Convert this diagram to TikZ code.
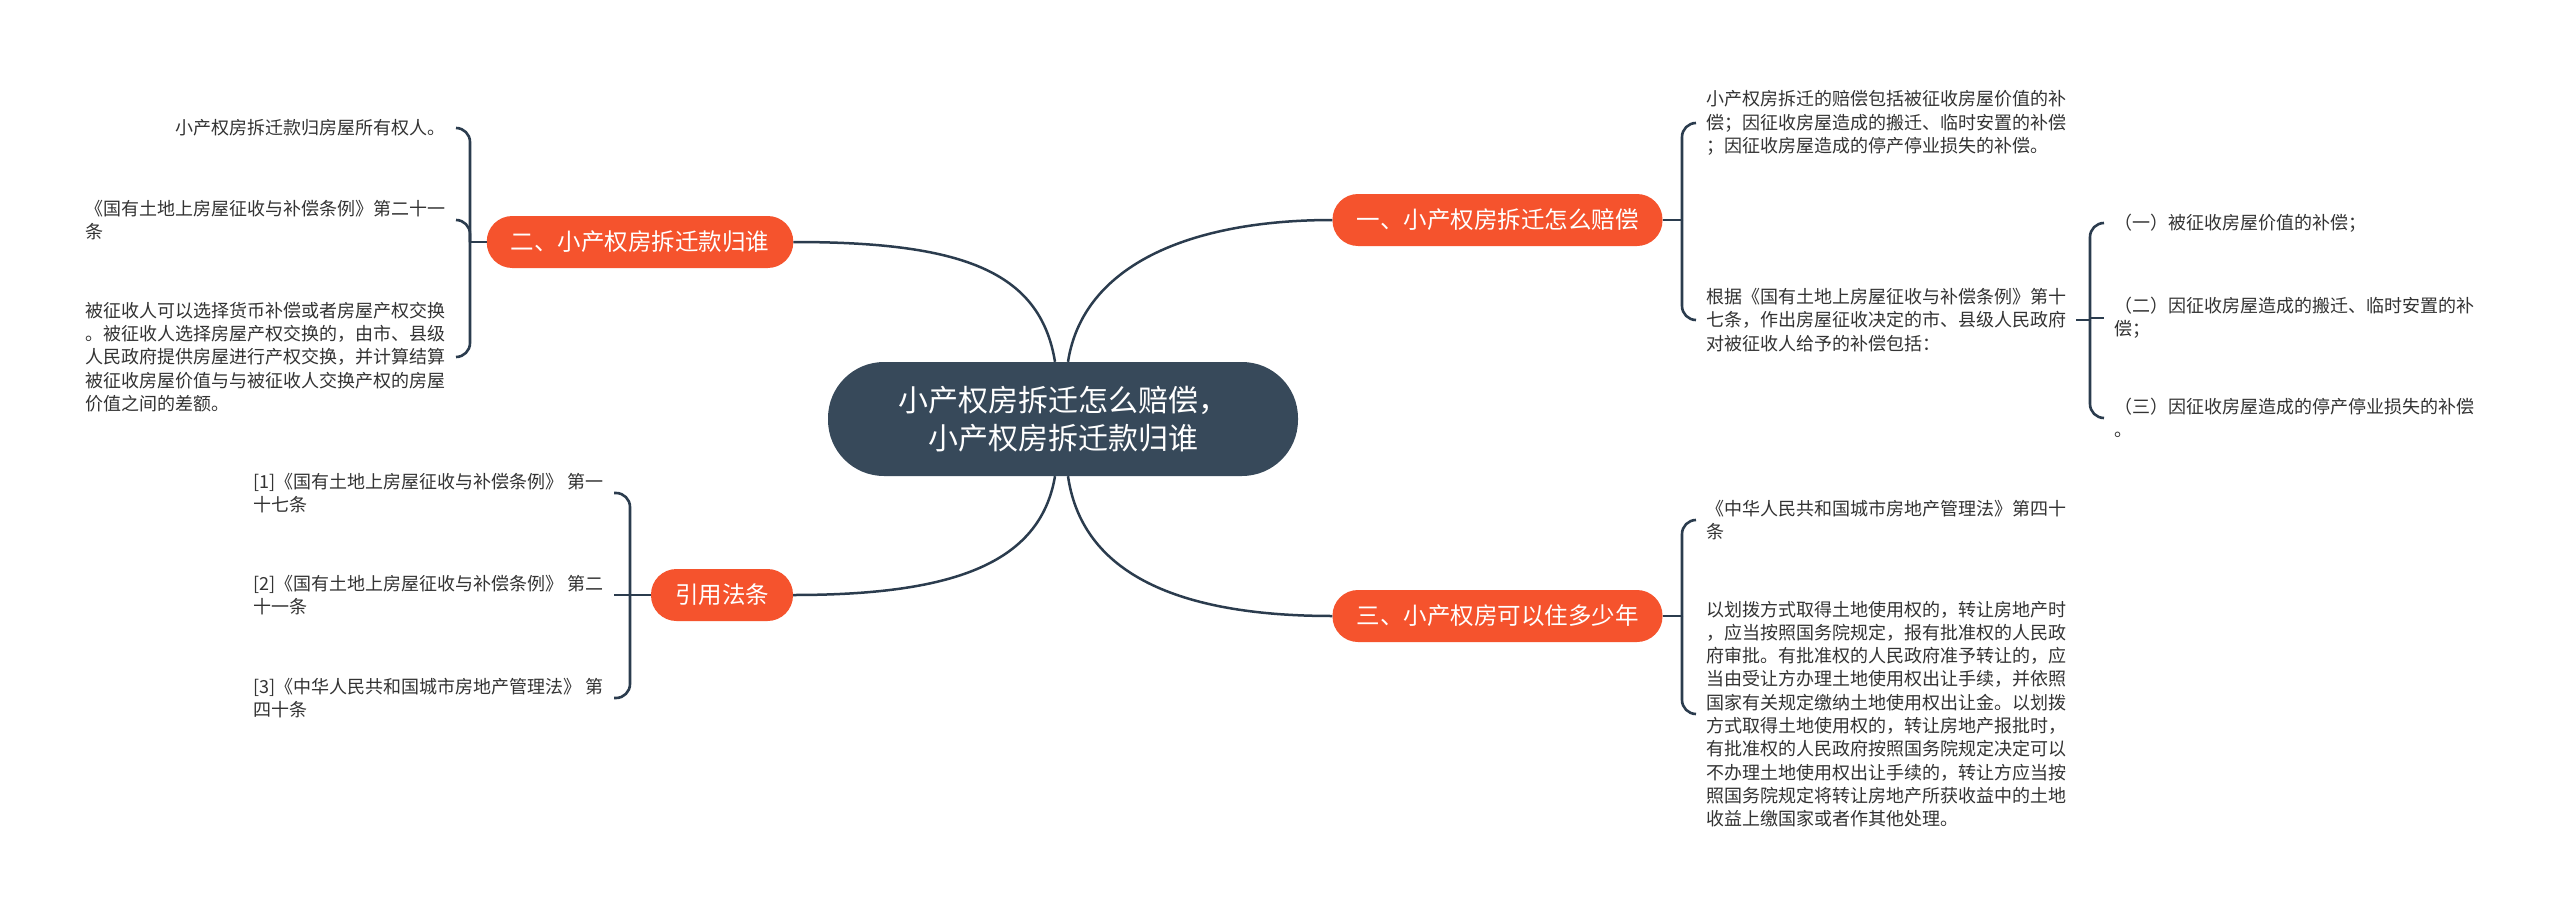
\documentclass[tikz,border=0pt]{standalone}
\usepackage{fontspec}
\setmainfont{Noto Sans CJK SC}
\definecolor{orangenode}{HTML}{F5532D}
\definecolor{rootfill}{HTML}{37495A}
\definecolor{linec}{HTML}{2B3C4E}
\definecolor{textc}{HTML}{333333}
\begin{document}
\begin{tikzpicture}[x=1pt,y=-1pt,
  rootnode/.style={fill=rootfill, text=white, rounded corners=56pt, minimum width=470pt, minimum height=114pt, align=center, font=\fontsize{30}{38}\selectfont, inner sep=0pt},
  topic/.style={fill=orangenode, text=white, rounded corners=25.5pt, minimum height=52pt, inner xsep=24pt, inner ysep=0pt, font=\fontsize{23.5}{28}\selectfont},
  leafr/.style={anchor=west, align=left, text=textc, inner xsep=10pt, inner ysep=0pt, font=\fontsize{18}{23.3}\selectfont},
  leafl/.style={leafr, anchor=east},
  conn/.style={draw=linec, line width=2.5pt},
  bracel/.style={draw=linec, line width=2.6pt, rounded corners=14pt}
]
\fill[white] (0,0) rectangle (2560,915);
\useasboundingbox (0,0) rectangle (2560,915);

% central and main topics
\node[rootnode] (root) at (1063,419) {小产权房拆迁怎么赔偿，\\小产权房拆迁款归谁};
\node[topic] (n1) at (1497.5,220) {一、小产权房拆迁怎么赔偿};
\node[topic] (n2) at (640,242) {二、小产权房拆迁款归谁};
\node[topic] (n3) at (1497.5,616) {三、小产权房可以住多少年};
\node[topic] (n4) at (722,595) {引用法条};

% leaves right of n1
\node[leafr] (c1) at (1696,123) {小产权房拆迁的赔偿包括被征收房屋价值的补\\偿；因征收房屋造成的搬迁、临时安置的补偿\\；因征收房屋造成的停产停业损失的补偿。};
\node[leafr] (c2) at (1696,320) {根据《国有土地上房屋征收与补偿条例》第十\\七条，作出房屋征收决定的市、县级人民政府\\对被征收人给予的补偿包括：};
\node[leafr] (g1) at (2104,223) {（一）被征收房屋价值的补偿；};
\node[leafr] (g2) at (2104,318) {（二）因征收房屋造成的搬迁、临时安置的补\\偿；};
\node[leafr] (g3) at (2104,418) {（三）因征收房屋造成的停产停业损失的补偿\\。};

% leaves right of n3
\node[leafr] (d1) at (1696,520) {《中华人民共和国城市房地产管理法》第四十\\条};
\node[leafr] (d2) at (1696,714) {以划拨方式取得土地使用权的，转让房地产时\\，应当按照国务院规定，报有批准权的人民政\\府审批。有批准权的人民政府准予转让的，应\\当由受让方办理土地使用权出让手续，并依照\\国家有关规定缴纳土地使用权出让金。以划拨\\方式取得土地使用权的，转让房地产报批时，\\有批准权的人民政府按照国务院规定决定可以\\不办理土地使用权出让手续的，转让方应当按\\照国务院规定将转让房地产所获收益中的土地\\收益上缴国家或者作其他处理。};

% leaves left of n2
\node[leafl] (e1) at (456,128) {小产权房拆迁款归房屋所有权人。};
\node[leafl] (e2) at (456,220) {《国有土地上房屋征收与补偿条例》第二十一\\条};
\node[leafl] (e3) at (456,357) {被征收人可以选择货币补偿或者房屋产权交换\\。被征收人选择房屋产权交换的，由市、县级\\人民政府提供房屋进行产权交换，并计算结算\\被征收房屋价值与与被征收人交换产权的房屋\\价值之间的差额。};

% leaves left of n4
\node[leafl] (f1) at (614,493) {[1]《国有土地上房屋征收与补偿条例》 第一\\十七条};
\node[leafl] (f2) at (614,595) {[2]《国有土地上房屋征收与补偿条例》 第二\\十一条};
\node[leafl] (f3) at (614,698) {[3]《中华人民共和国城市房地产管理法》 第\\四十条};

% junctions
\coordinate (j1) at (1682,220);
\coordinate (j2) at (470,242);
\coordinate (j3) at (1682,616);
\coordinate (j4) at (630,595);
\coordinate (j5) at (2090,320);

% main connectors
\draw[conn] ([xshift=-8pt]root.north) .. controls (1040,270) and (960,242) .. (n2.east);
\draw[conn] ([xshift=5pt]root.north) .. controls (1083,265) and (1190,220) .. (n1.west);
\draw[conn] ([xshift=5pt]root.south) .. controls (1083,580) and (1190,616) .. (n3.west);
\draw[conn] ([xshift=-8pt]root.south) .. controls (1040,565) and (950,595) .. (n4.east);

% brackets
\draw[conn] (n1.east) -- (j1);
\draw[bracel] (j1) |- (c1.west);
\draw[bracel] (j1) |- (c2.west);

\draw[conn] (c2.east) -- (j5);
\draw[bracel] (j5) |- (g1.west);
\draw[bracel] (j5) |- (g3.west);
\draw[bracel] (j5 |- g2.west) -- (g2.west);

\draw[conn] (n3.east) -- (j3);
\draw[bracel] (j3) |- (d1.west);
\draw[bracel] (j3) |- (d2.west);

\draw[conn] (n2.west) -- (j2);
\draw[bracel] (j2) |- (e1.east);
\draw[bracel] (j2) |- (e2.east);
\draw[bracel] (j2) |- (e3.east);

\draw[conn] (n4.west) -- (j4);
\draw[bracel] (j4) |- (f1.east);
\draw[bracel] (j4) -- (f2.east);
\draw[bracel] (j4) |- (f3.east);
\end{tikzpicture}
\end{document}
